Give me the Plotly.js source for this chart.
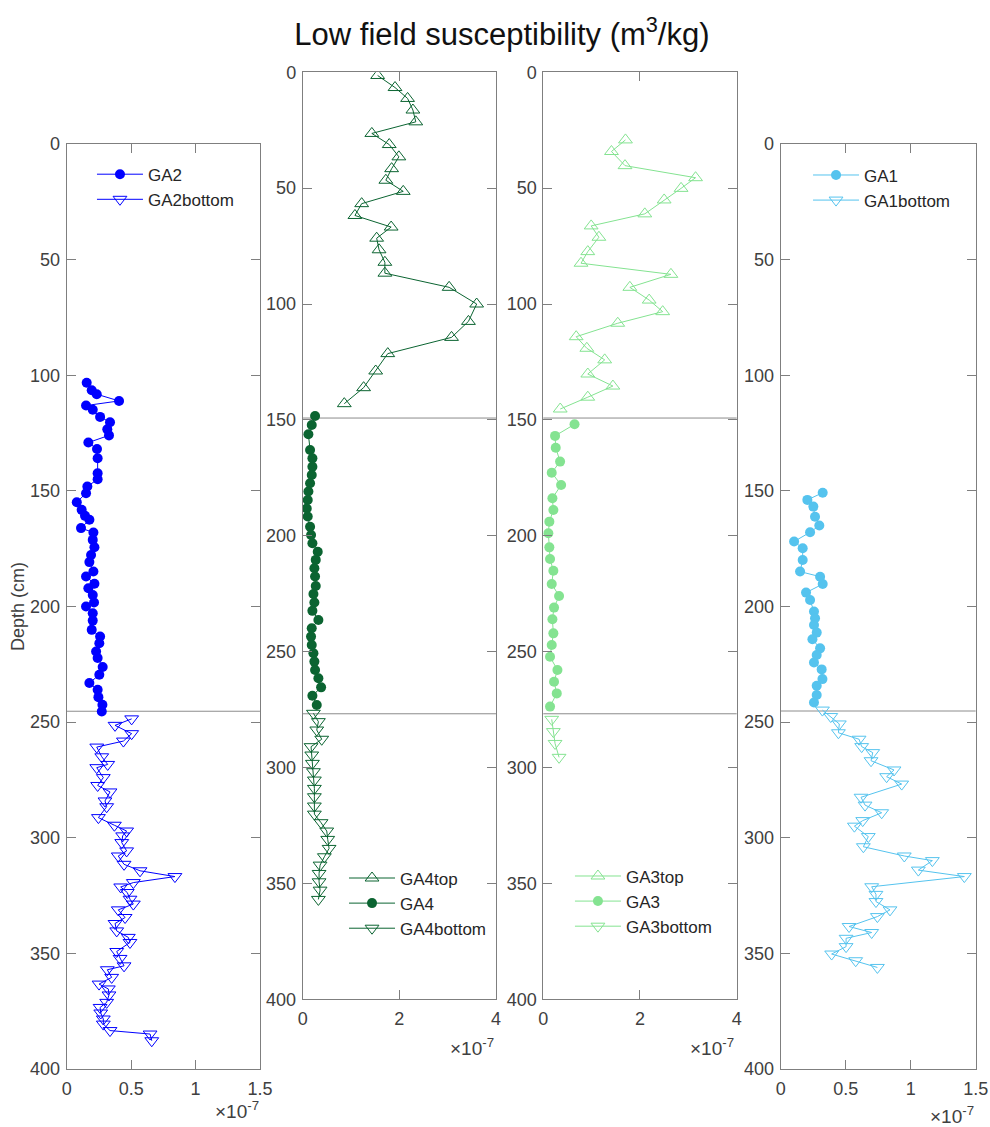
<!DOCTYPE html>
<html>
<head>
<meta charset="utf-8">
<script src="https://cdn.plot.ly/plotly-3.0.1.min.js"></script>
<style>html,body{margin:0;padding:0;background:#fff;}#chart{width:990px;height:1127px;}</style>
</head>
<body>
<div id="chart"></div>
<script>
// Values of susceptibility in units of 1e-7 m^3/kg; depths in cm
const ga2Depth = [103.2,106.5,108.2,111.1,113.1,114.9,118.0,120.3,123.4,126.0,129.1,131.9,135.9,142.4,145.0,148.1,151.0,154.9,158.2,160.8,162.5,166.1,168.0,171.2,174.4,177.7,180.8,184.9,187.0,190.2,192.1,195.0,198.3,200.0,202.9,206.1,210.1,213.0,215.9,219.5,222.3,226.2,229.5,233.1,236.0,239.2,242.5,245.4];
const ga2Sus = [0.155,0.194,0.233,0.406,0.150,0.202,0.259,0.336,0.315,0.328,0.168,0.235,0.240,0.240,0.240,0.160,0.150,0.078,0.116,0.142,0.176,0.111,0.207,0.202,0.215,0.189,0.176,0.207,0.150,0.215,0.168,0.202,0.212,0.150,0.202,0.202,0.194,0.259,0.253,0.228,0.240,0.279,0.253,0.176,0.240,0.246,0.277,0.272];
const ga2bDepth = [248.6,251.4,255.0,258.2,260.8,265.0,268.3,269.7,274.0,277.4,280.2,284.1,286.6,291.3,294.6,297.1,299.2,302.1,305.7,307.9,311.5,314.3,316.8,319.4,321.3,323.7,326.6,328.7,331.2,334.5,337.1,340.3,343.1,345.3,349.2,352.2,355.4,357.1,360.4,363.3,365.4,368.0,371.2,373.4,375.8,378.4,380.6,383.4,384.9,387.8];
const ga2bSus = [0.504,0.375,0.504,0.440,0.233,0.272,0.318,0.233,0.284,0.240,0.336,0.297,0.310,0.246,0.370,0.465,0.434,0.427,0.465,0.400,0.445,0.569,0.840,0.517,0.419,0.470,0.491,0.517,0.400,0.453,0.375,0.388,0.478,0.491,0.388,0.414,0.445,0.315,0.349,0.251,0.323,0.328,0.310,0.259,0.264,0.284,0.284,0.336,0.647,0.660];

const ga4tDepth = [1.4,6.6,11.3,16.3,21.4,26.4,31.2,36.5,41.6,46.6,51.4,56.7,61.8,66.8,71.6,76.6,82.0,86.7,92.8,100.0,107.5,114.4,121.4,128.9,136.1,143.0];
const ga4tSus = [1.55,1.91,2.17,2.28,2.34,1.43,1.79,1.99,1.84,1.72,2.08,1.22,1.08,1.83,1.53,1.58,1.70,1.70,3.03,3.60,3.43,3.08,1.76,1.51,1.26,0.86];
const ga4Depth = [148.3,152.2,156.2,163.0,166.6,170.2,173.8,177.3,180.9,184.6,188.2,191.7,196.1,199.7,203.2,206.9,210.4,214.0,217.6,221.7,225.1,228.8,232.4,236.3,239.9,243.5,247.1,250.7,254.3,257.9,261.5,265.4,269.0,273.0];
const ga4Sus = [0.255,0.186,0.117,0.152,0.200,0.200,0.186,0.152,0.117,0.103,0.083,0.103,0.152,0.172,0.200,0.310,0.269,0.241,0.255,0.269,0.221,0.241,0.200,0.324,0.186,0.172,0.186,0.221,0.241,0.255,0.324,0.380,0.200,0.290];
const ga4bDepth = [276.6,280.2,283.8,287.8,291.0,294.6,298.2,301.8,305.4,309.0,312.6,316.6,320.1,323.8,327.4,331.0,334.9,338.5,342.1,345.7,349.3,352.9,356.9];
const ga4bSus = [0.221,0.324,0.290,0.393,0.172,0.186,0.200,0.221,0.241,0.241,0.241,0.241,0.241,0.379,0.497,0.517,0.545,0.448,0.359,0.338,0.338,0.359,0.324];

const ga3tDepth = [29.2,34.2,40.3,45.5,50.1,55.1,61.1,66.3,71.2,77.4,82.4,87.2,92.8,98.3,103.3,108.3,114.1,119.1,124.1,130.2,135.4,140.2,145.3];
const ga3tSus = [1.70,1.41,1.69,3.15,2.85,2.50,2.10,0.99,1.15,0.92,0.78,2.64,1.79,2.19,2.47,1.54,0.68,0.90,1.27,0.92,1.44,0.92,0.35];
const ga3Depth = [151.9,156.9,162.0,168.0,172.8,178.1,183.8,188.9,193.9,198.9,205.0,210.0,215.1,220.8,226.0,231.0,236.0,242.1,247.1,252.2,257.9,263.0,268.0,273.7];
const ga3Sus = [0.646,0.243,0.257,0.347,0.174,0.368,0.188,0.208,0.125,0.104,0.125,0.139,0.208,0.174,0.326,0.222,0.188,0.208,0.174,0.139,0.292,0.222,0.278,0.139];
const ga3bDepth = [279.2,284.5,289.6,295.6];
const ga3bSus = [0.174,0.208,0.243,0.326];

const ga1Depth = [150.8,153.9,156.8,161.2,165.0,167.9,171.9,174.8,179.9,184.9,187.1,190.3,194.0,197.2,202.2,205.1,208.0,211.3,214.2,218.1,221.0,224.2,227.2,231.4,234.3,238.3,241.5];
const ga1Sus = [0.323,0.205,0.251,0.264,0.297,0.226,0.103,0.169,0.169,0.149,0.303,0.323,0.195,0.226,0.256,0.264,0.256,0.277,0.244,0.303,0.277,0.256,0.315,0.321,0.277,0.277,0.256];
const ga1bDepth = [244.8,247.6,250.8,254.6,257.4,260.6,263.2,266.7,270.7,273.6,276.8,282.5,285.9,289.2,292.6,295.0,299.5,303.9,307.9,309.9,314.0,316.8,321.2,324.5,327.6,331.2,334.1,338.4,341.0,343.5,347.1,350.3,353.2,356.1];
const ga1bSus = [0.321,0.385,0.451,0.444,0.603,0.623,0.708,0.695,0.872,0.815,0.931,0.618,0.649,0.777,0.631,0.567,0.674,0.636,0.951,1.167,1.059,1.413,0.700,0.733,0.733,0.841,0.744,0.526,0.700,0.503,0.503,0.392,0.577,0.744];

// Section boundary depths per panel
const boundGA2 = [245.3];
const boundGA4 = [149.2, 276.8];
const boundGA3 = [149.2, 276.8];
const boundGA1 = [245.2];

const depthTicks = [0,50,100,150,200,250,300,350,400];
const xTicksSmall = [0,0.5,1,1.5];
const xTickTextSmall = ['0','0.5','1','1.5'];
const xTicksBig = [0,2,4];
const xTickTextBig = ['0','2','4'];

const C_GA2 = '#0000ff';
const C_GA4 = '#0b6431';
const C_GA3 = '#84e391';
const C_GA1 = '#55c3ee';

const FONT = 'Liberation Sans, Arial, Helvetica, sans-serif';

function tr(name, x, y, xa, ya, color, symbol, legend, open) {
  return {
    type: 'scatter', mode: 'lines+markers', name: name,
    x: x, y: y, xaxis: xa, yaxis: ya, legend: legend,
    line: {color: color, width: 1},
    marker: open
      ? {symbol: symbol, size: 12, color: color, line: {color: color, width: 1}}
      : {symbol: symbol, size: 10, color: color, line: {width: 0}}
  };
}

const data = [
  tr('GA2', ga2Sus, ga2Depth, 'x', 'y', C_GA2, 'circle', 'legend', false),
  tr('GA2bottom', ga2bSus, ga2bDepth, 'x', 'y', C_GA2, 'triangle-down-open', 'legend', true),
  tr('GA4top', ga4tSus, ga4tDepth, 'x2', 'y2', C_GA4, 'triangle-up-open', 'legend2', true),
  tr('GA4', ga4Sus, ga4Depth, 'x2', 'y2', C_GA4, 'circle', 'legend2', false),
  tr('GA4bottom', ga4bSus, ga4bDepth, 'x2', 'y2', C_GA4, 'triangle-down-open', 'legend2', true),
  tr('GA3top', ga3tSus, ga3tDepth, 'x3', 'y3', C_GA3, 'triangle-up-open', 'legend3', true),
  tr('GA3', ga3Sus, ga3Depth, 'x3', 'y3', C_GA3, 'circle', 'legend3', false),
  tr('GA3bottom', ga3bSus, ga3bDepth, 'x3', 'y3', C_GA3, 'triangle-down-open', 'legend3', true),
  tr('GA1', ga1Sus, ga1Depth, 'x4', 'y4', C_GA1, 'circle', 'legend4', false),
  tr('GA1bottom', ga1bSus, ga1bDepth, 'x4', 'y4', C_GA1, 'triangle-down-open', 'legend4', true)
];

const AX_COLOR = '#7f7f7f';
const TICK_FONT = {family: FONT, size: 18, color: '#404040'};

function xax(domain, range, vals, text, anchor) {
  return {domain: domain, range: range, anchor: anchor, tickvals: vals, ticktext: text,
    ticks: 'inside', ticklen: 9, tickcolor: AX_COLOR, tickwidth: 1,
    showline: true, linecolor: AX_COLOR, linewidth: 1, mirror: 'ticks',
    showgrid: false, zeroline: false, tickfont: TICK_FONT, fixedrange: true, ticklabelstandoff: 3};
}
function yax(domain, anchor, title) {
  const a = {domain: domain, range: [400, 0], anchor: anchor, tickvals: depthTicks,
    ticks: 'inside', ticklen: 9, tickcolor: AX_COLOR, tickwidth: 1,
    showline: true, linecolor: AX_COLOR, linewidth: 1, mirror: 'ticks',
    showgrid: false, zeroline: false, tickfont: TICK_FONT, fixedrange: true, ticklabelstandoff: 2};
  if (title) a.title = {text: title, font: {family: FONT, size: 18, color: '#404040'}, standoff: 0};
  return a;
}

const dom1x = [0.0674, 0.2626], dom2x = [0.3058, 0.5010], dom3x = [0.5488, 0.7441], dom4x = [0.7886, 0.9855];
const domLow = [0.0515, 0.8722], domHigh = [0.1133, 0.9359];

const shapes = [];
function addBounds(arr, xa, ya) {
  arr.forEach(d => shapes.push({type: 'line', xref: xa + ' domain', yref: ya, x0: 0, x1: 1, y0: d, y1: d,
    line: {color: '#8c8c8c', width: 1}, layer: 'below'}));
}
addBounds(boundGA2, 'x', 'y');
addBounds(boundGA4, 'x2', 'y2');
addBounds(boundGA3, 'x3', 'y3');
addBounds(boundGA1, 'x4', 'y4');

function expo(x, y) {
  return {text: '×10<sup>-7</sup>', xref: 'paper', yref: 'paper', x: x, y: y, xanchor: 'right', yanchor: 'middle',
    showarrow: false, font: {family: FONT, size: 19, color: '#404040'}};
}

function leg(x, y) {
  return {x: x, y: y, xanchor: 'left', yanchor: 'top', bgcolor: 'rgba(0,0,0,0)', borderwidth: 0,
    font: {family: FONT, size: 17, color: '#262626'}, itemwidth: 46, tracegroupgap: 0};
}

const layout = {
  width: 990, height: 1127,
  margin: {l: 0, r: 0, t: 0, b: 0},
  paper_bgcolor: '#ffffff', plot_bgcolor: '#ffffff',
  font: {family: FONT},
  title: {text: 'Low field susceptibility (m<sup>3</sup>/kg)', x: 0.507, xanchor: 'center', y: 1 - 34/1127, yanchor: 'middle',
    font: {family: FONT, size: 31, color: '#111111'}},
  showlegend: true,
  xaxis: xax(dom1x, [0, 1.5], xTicksSmall, xTickTextSmall, 'y'),
  yaxis: yax(domLow, 'x', 'Depth (cm)'),
  xaxis2: xax(dom2x, [0, 4], xTicksBig, xTickTextBig, 'y2'),
  yaxis2: yax(domHigh, 'x2'),
  xaxis3: xax(dom3x, [0, 4], xTicksBig, xTickTextBig, 'y3'),
  yaxis3: yax(domHigh, 'x3'),
  xaxis4: xax(dom4x, [0, 1.5], xTicksSmall, xTickTextSmall, 'y4'),
  yaxis4: yax(domLow, 'x4'),
  legend: leg(0.0929, 0.861),
  legend2: leg(0.3475, 0.2365),
  legend3: leg(0.5757, 0.2383),
  legend4: leg(0.8162, 0.8603),
  shapes: shapes,
  annotations: [
    expo(261/990, 1 - 1110/1127),
    expo(496/990, 1 - 1047/1127),
    expo(736/990, 1 - 1047/1127),
    expo(976/990, 1 - 1115/1127)
  ]
};

Plotly.newPlot('chart', data, layout, {displayModeBar: false, staticPlot: true});
</script>
</body>
</html>
